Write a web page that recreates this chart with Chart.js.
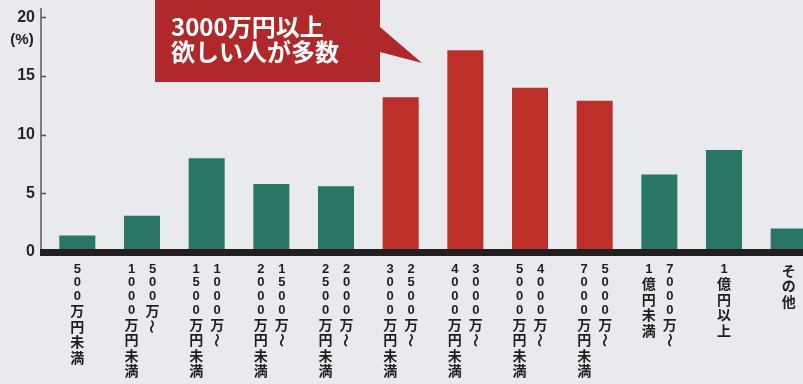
<!DOCTYPE html>
<html lang="ja">
<head>
<meta charset="utf-8">
<title>希望年収の分布</title>
<script src="https://cdn.jsdelivr.net/npm/chart.js@4/dist/chart.umd.min.js"></script>
<style>
  html, body { margin: 0; padding: 0; background: #e8eaee; overflow: hidden; }
  #wrap { width: 803px; height: 384px; overflow: hidden; position: relative; }
  canvas { display: block; }
</style>
</head>
<body>
<div id="wrap"><canvas id="chart" width="821" height="384"></canvas></div>
<script>
// Income bands; each band is written vertically, columns read right to left
const incomeBands = [
  ['500万円未満'],
  ['500万〜', '1000万円未満'],
  ['1000万〜', '1500万円未満'],
  ['1500万〜', '2000万円未満'],
  ['2000万〜', '2500万円未満'],
  ['2500万〜', '3000万円未満'],
  ['3000万〜', '4000万円未満'],
  ['4000万〜', '5000万円未満'],
  ['5000万〜', '7000万円未満'],
  ['7000万〜', '1億円未満'],
  ['1億円以上'],
  ['その他']
];

// Share of respondents per band (%)
const shares = [1.4, 3.1, 8.0, 5.8, 5.6, 13.2, 17.2, 14.0, 12.9, 6.6, 8.7, 2.0];

// Bands at 30 million yen and above
const highlightBands = [5, 6, 7, 8];

const yTicks = [0, 5, 10, 15, 20];
const unitLabel = '(%)';
const calloutLines = ['3000万円以上', '欲しい人が多数'];

const GREEN = '#2a7664';
const RED = '#bd3029';
const CALLOUT_RED = '#b0292a';
const INK = '#1e1e1e';

const DIGIT_FONT = 'bold 13px "Liberation Sans", Arial, sans-serif';
const KANA_FONT = 'bold 14px "Noto Sans CJK JP", sans-serif';
const DIGIT_STEP = 13.6;
const KANA_STEP = 15.5;

const barColors = shares.map((_, i) => highlightBands.includes(i) ? RED : GREEN);

// Draws a vertical (tategaki) column of characters centred on x, starting at top
function drawColumn(ctx, text, x, top) {
  let cursor = top;
  [...text].forEach(ch => {
    const isDigit = /[0-9]/.test(ch);
    const step = isDigit ? DIGIT_STEP : KANA_STEP;
    const cy = cursor + step / 2;
    cursor += step;
    ctx.font = isDigit ? DIGIT_FONT : KANA_FONT;
    if (ch === '〜') {
      ctx.save();
      ctx.translate(x, cy);
      ctx.rotate(Math.PI / 2);
      ctx.fillText(ch, 0, 0);
      ctx.restore();
    } else {
      ctx.fillText(ch, x, cy);
    }
  });
}

const overlay = {
  id: 'overlay',
  beforeDraw(chart) {
    const { ctx } = chart;
    ctx.save();
    ctx.fillStyle = '#e8eaee';
    ctx.fillRect(0, 0, chart.width, chart.height);
    ctx.restore();
  },
  afterDatasetsDraw(chart) {
    const { ctx, chartArea, scales: { x, y } } = chart;
    const y0 = y.getPixelForValue(0);
    const ax = chartArea.left - 4;

    ctx.save();
    // vertical axis with inward tick marks
    ctx.strokeStyle = '#505050';
    ctx.lineWidth = 1.4;
    ctx.beginPath();
    ctx.moveTo(ax, chartArea.top);
    ctx.lineTo(ax, y0);
    yTicks.forEach(v => {
      if (v === 0) return;
      const py = Math.round(y.getPixelForValue(v)) + 0.5;
      ctx.moveTo(ax, py);
      ctx.lineTo(ax + 5, py);
    });
    ctx.stroke();

    // heavy baseline
    ctx.fillStyle = '#231f20';
    ctx.fillRect(ax - 1, y0 - 3, chart.width, 7);

    // unit label
    ctx.fillStyle = INK;
    ctx.font = 'bold 15px "Liberation Sans", Arial, sans-serif';
    ctx.textAlign = 'center';
    ctx.textBaseline = 'middle';
    ctx.fillText(unitLabel, 22, y.getPixelForValue(20) + 22);

    // category labels, vertical writing
    ctx.fillStyle = INK;
    const top = y0 + 10.5;
    incomeBands.forEach((cols, i) => {
      const cx = x.getPixelForValue(i);
      if (cols.length === 1) {
        drawColumn(ctx, cols[0], cx, top);
      } else {
        // first column sits on the right
        drawColumn(ctx, cols[0], cx + 10.5, top);
        drawColumn(ctx, cols[1], cx - 10.5, top);
      }
    });

    // callout box with pointer
    const boxL = 155, boxR = 380, boxT = 0, boxB = 82;
    ctx.fillStyle = CALLOUT_RED;
    ctx.beginPath();
    ctx.moveTo(boxL, boxT);
    ctx.lineTo(boxR, boxT);
    ctx.lineTo(boxR, 27);
    ctx.lineTo(422, 63);
    ctx.lineTo(boxR, 52);
    ctx.lineTo(boxR, boxB);
    ctx.lineTo(boxL, boxB);
    ctx.closePath();
    ctx.fill();

    ctx.fillStyle = '#ffffff';
    ctx.font = 'bold 24px "Noto Sans CJK JP", sans-serif';
    ctx.textAlign = 'left';
    ctx.textBaseline = 'middle';
    ctx.fillText(calloutLines[0], 171, 27);
    ctx.fillText(calloutLines[1], 171, 52);
    ctx.restore();
  }
};

new Chart(document.getElementById('chart'), {
  type: 'bar',
  data: {
    labels: incomeBands,
    datasets: [{
      data: shares,
      backgroundColor: barColors,
      borderWidth: 0,
      barPercentage: 0.557,
      categoryPercentage: 1.0
    }]
  },
  options: {
    responsive: false,
    animation: false,
    devicePixelRatio: 1,
    layout: { padding: { top: 8, left: 0, right: 0, bottom: 132 } },
    plugins: {
      legend: { display: false },
      tooltip: { enabled: false },
      title: { display: false }
    },
    scales: {
      x: {
        offset: true,
        grid: { display: false, drawTicks: false },
        border: { display: false },
        ticks: { display: false }
      },
      y: {
        min: 0,
        max: 20.8,
        afterBuildTicks(scale) {
          scale.ticks = yTicks.map(v => ({ value: v }));
        },
        afterFit(scale) {
          scale.width = 45;
          scale.paddingTop = 0;
          scale.paddingBottom = 0;
        },
        grid: { display: false, drawTicks: false },
        border: { display: false },
        ticks: {
          padding: 10,
          color: '#262626',
          font: { family: '"Liberation Sans", Arial, sans-serif', size: 16, weight: 'bold' }
        }
      }
    }
  },
  plugins: [overlay]
});
</script>
</body>
</html>
